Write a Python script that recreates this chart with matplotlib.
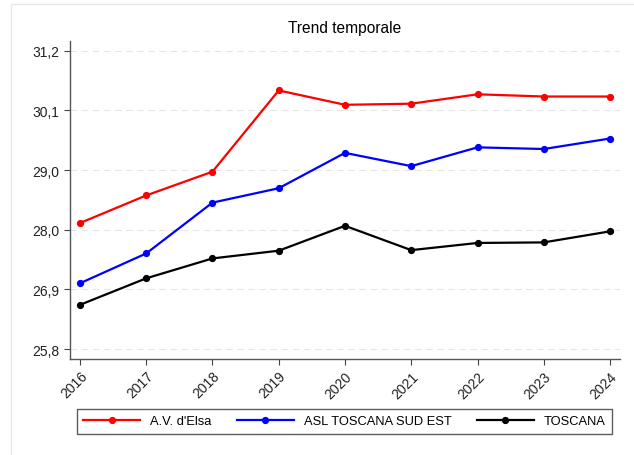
import numpy as np
import matplotlib.pyplot as plt
from matplotlib.patches import Rectangle

plt.rcParams['font.family'] = ['Liberation Sans', 'DejaVu Sans']

years = [2016, 2017, 2018, 2019, 2020, 2021, 2022, 2023, 2024]
elsa = [28.08, 28.58, 29.01, 30.48, 30.22, 30.24, 30.41, 30.37, 30.37]
asl_sud_est = [26.99, 27.53, 28.45, 28.71, 29.35, 29.11, 29.45, 29.42, 29.61]
toscana = [26.60, 27.08, 27.44, 27.58, 28.03, 27.59, 27.72, 27.73, 27.93]

yticks = np.linspace(25.8, 31.2, 6)
ylabels = ['25,8', '26,9', '28,0', '29,0', '30,1', '31,2']

fig = plt.figure(figsize=(6.34, 4.56), dpi=100)
# thin frame around the graph region
fig.patches.append(Rectangle((11/634, -0.1), 1.0, 1 - 4.5/456 + 0.1, transform=fig.transFigure,
                             fill=False, edgecolor='#e3eaee', linewidth=1.0))
ax = fig.add_axes([70/634, 1 - 360/456, 550/634, 318.3/456])

series = [('A.V. d\'Elsa', elsa, '#ff0000'),
          ('ASL TOSCANA SUD EST', asl_sud_est, '#0000ff'),
          ('TOSCANA', toscana, '#000000')]
for name, vals, col in series:
    ax.plot(years, vals, color=col, lw=1.6, marker='o', ms=4.2, label=name)

ax.set_xlim(2015.85, 2024.15)
ax.set_ylim(25.62, 31.38)
ax.set_yticks(yticks)
ax.set_yticklabels(ylabels)
ax.set_xticks(years)
ax.set_xticklabels([str(y) for y in years], rotation=45, ha='right', rotation_mode='anchor')
ax.tick_params(axis='both', labelsize=10, length=4, width=0.8, color='#444444', labelcolor='#222222')
ax.tick_params(axis='x', pad=3)
ax.grid(axis='y', color='#e6e6e6', lw=0.8, ls=(0, (6, 4)))
ax.set_axisbelow(True)
for s in ['top', 'right']:
    ax.spines[s].set_visible(False)
for s in ['left', 'bottom']:
    ax.spines[s].set_color('#555555')
    ax.spines[s].set_linewidth(1.0)
ax.set_title('Trend temporale', fontsize=11.2, pad=6)

leg = fig.legend(loc='center', ncol=3, bbox_to_anchor=(344.5/634, 1 - 422.2/456),
                 fontsize=9.3, frameon=True, fancybox=False, edgecolor='#333333',
                 handlelength=4.4, handletextpad=0.78, columnspacing=1.95,
                 borderpad=0.5, borderaxespad=0.0)
leg.get_frame().set_linewidth(1.0)

fig.savefig('out.png', dpi=100)
